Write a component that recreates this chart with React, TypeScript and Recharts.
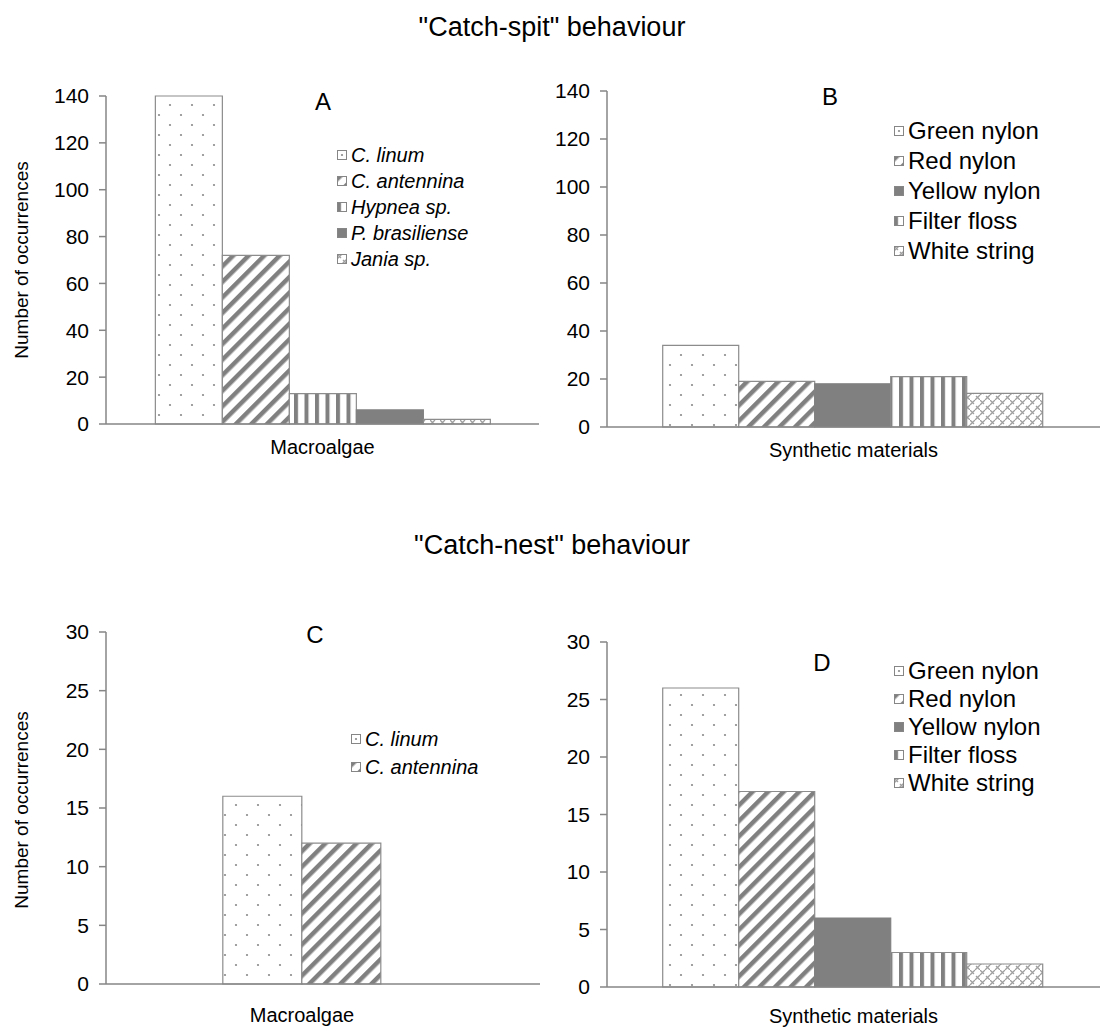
import React from "react";
import { BarChart, Bar, XAxis, YAxis, Legend } from "recharts";

const FONT = "'Liberation Sans', Arial, sans-serif";
const GREY = "#868686";

// series names
const algaeSpitSeries = ["C. linum", "C. antennina", "Hypnea sp.", "P. brasiliense", "Jania sp."];
const algaeNestSeries = ["C. linum", "C. antennina"];
const synthSeries = ["Green nylon", "Red nylon", "Yellow nylon", "Filter floss", "White string"];

// values
const spitAlgaeValues = [140, 72, 13, 6, 2];
const spitSynthValues = [34, 19, 18, 21, 14];
const nestAlgaeValues = [16, 12];
const nestSynthValues = [26, 17, 6, 3, 2];

const spitTicks = [0, 20, 40, 60, 80, 100, 120, 140];
const nestTicks = [0, 5, 10, 15, 20, 25, 30];

// fill style per series
const algaeKinds = ["dots", "diag", "vert", "solid", "weave"];
const synthKinds = ["dots", "diag", "solid", "vert", "weave"];

const fillFor = (kind: string, pid: string) =>
  kind === "solid" ? "#808080" : `url(#${pid}-${kind})`;

function Patterns({ pid }: { pid: string }) {
  return (
    <defs>
      <pattern id={`${pid}-dots`} patternUnits="userSpaceOnUse" width={22} height={20}>
        <rect width={22} height={20} fill="#fff" />
        <circle cx={5} cy={5} r={1.1} fill="#8a8a8a" />
        <circle cx={16} cy={15} r={1.1} fill="#8a8a8a" />
      </pattern>
      <pattern
        id={`${pid}-diag`}
        patternUnits="userSpaceOnUse"
        width={11}
        height={11}
        patternTransform="rotate(45)"
      >
        <rect width={11} height={11} fill="#fff" />
        <rect width={4.5} height={11} fill="#808080" />
      </pattern>
      <pattern id={`${pid}-vert`} patternUnits="userSpaceOnUse" width={10.5} height={10}>
        <rect width={10.5} height={10} fill="#fff" />
        <rect width={4} height={10} fill="#808080" />
      </pattern>
      <pattern id={`${pid}-weave`} patternUnits="userSpaceOnUse" width={10} height={10}>
        <rect width={10} height={10} fill="#fff" />
        <path d="M0 5 L5 0 M5 10 L10 5 M0 0 L4 4 M6 6 L10 10" stroke="#a0a0a0" strokeWidth={1.3} fill="none" />
      </pattern>
    </defs>
  );
}

function LegendBox({ names, kinds, pid, italic, fontSize, spacing }: any) {
  return (
    <div
      style={{
        fontFamily: FONT,
        fontSize,
        fontStyle: italic ? "italic" : "normal",
        color: "#000",
        lineHeight: `${spacing}px`,
      }}
    >
      {names.map((n: string, i: number) => (
        <div key={n} style={{ display: "flex", alignItems: "center", whiteSpace: "nowrap" }}>
          <svg width={10} height={10} style={{ marginRight: 4, flexShrink: 0 }}>
            <rect x={0.5} y={0.5} width={9} height={9} fill={fillFor(kinds[i], pid)} stroke={GREY} />
          </svg>
          <span>{n}</span>
        </div>
      ))}
    </div>
  );
}

type PanelProps = {
  pid: string;
  category: string;
  series: string[];
  values: number[];
  kinds: string[];
  ticks: number[];
  box: { left: number; top: number; width: number; height: number };
  margin: { top: number; right: number; bottom: number; left: number };
  gap: string;
  padRight?: number;
  tickMargin: number;
  legendPos: { left: number; top: number };
  italic: boolean;
  legendFont: number;
  legendSpacing: number;
};

function Panel(p: PanelProps) {
  const row: Record<string, any> = { name: p.category };
  p.series.forEach((s, i) => {
    row[`s${i}`] = p.values[i];
  });
  const data = [row];
  return (
    <div style={{ position: "absolute", ...p.box }}>
      <BarChart
        width={p.box.width}
        height={p.box.height}
        data={data}
        margin={p.margin}
        barCategoryGap={p.gap}
        barGap={0}
      >
        <Patterns pid={p.pid} />
        <XAxis
          dataKey="name"
          tickLine={false}
          axisLine={{ stroke: GREY, strokeWidth: 1.5 }}
          tick={{ fill: "#000", fontSize: 20, fontFamily: FONT }}
          tickMargin={p.tickMargin}
          height={40}
          padding={{ left: 0, right: p.padRight || 0 }}
        />
        <YAxis
          domain={[p.ticks[0], p.ticks[p.ticks.length - 1]]}
          ticks={p.ticks}
          interval={0}
          width={70}
          tickSize={7}
          tickMargin={10}
          axisLine={{ stroke: GREY, strokeWidth: 1.5 }}
          tickLine={{ stroke: GREY, strokeWidth: 1.5 }}
          tick={{ fill: "#000", fontSize: 21, fontFamily: FONT }}
        />
        <Legend
          layout="vertical"
          align="center"
          verticalAlign="middle"
          wrapperStyle={{ left: p.legendPos.left, top: p.legendPos.top, width: "auto" }}
          content={() => (
            <LegendBox
              names={p.series}
              kinds={p.kinds}
              pid={p.pid}
              italic={p.italic}
              fontSize={p.legendFont}
              spacing={p.legendSpacing}
            />
          )}
        />
        {p.series.map((s, i) => (
          <Bar
            key={s}
            dataKey={`s${i}`}
            name={s}
            fill={fillFor(p.kinds[i], p.pid)}
            stroke={p.kinds[i] === "solid" ? "#808080" : "#8c8c8c"}
            strokeWidth={1.2}
            isAnimationActive={false}
          />
        ))}
      </BarChart>
    </div>
  );
}

const textStyle: React.CSSProperties = {
  position: "absolute",
  fontFamily: FONT,
  color: "#000",
  whiteSpace: "nowrap",
};

function Label({ x, y, size, children, rotate }: any) {
  return (
    <div
      style={{
        ...textStyle,
        left: x,
        top: y,
        fontSize: size,
        transform: `translate(-50%, -50%)${rotate ? " rotate(-90deg)" : ""}`,
      }}
    >
      {children}
    </div>
  );
}

export default function App() {
  return (
    <div style={{ position: "absolute", left: 0, top: 0, width: 1105, height: 1028, background: "#fff" }}>
      <Label x={552} y={27} size={27}>"Catch-spit" behaviour</Label>
      <Label x={552} y={545} size={27}>"Catch-nest" behaviour</Label>
      <Label x={22} y={260} size={19} rotate>Number of occurrences</Label>
      <Label x={22} y={810} size={19} rotate>Number of occurrences</Label>

      <Panel
        pid="pa"
        category="Macroalgae"
        series={algaeSpitSeries}
        values={spitAlgaeValues}
        kinds={algaeKinds}
        ticks={spitTicks}
        box={{ left: 0, top: 50, width: 560, height: 450 }}
        margin={{ top: 46, right: 21, bottom: 36, left: 36 }}
        gap="11.4%"
        tickMargin={10}
        legendPos={{ left: 337, top: 92 }}
        italic
        legendFont={20}
        legendSpacing={26}
      />
      <Panel
        pid="pb"
        category="Synthetic materials"
        series={synthSeries}
        values={spitSynthValues}
        kinds={synthKinds}
        ticks={spitTicks}
        box={{ left: 500, top: 50, width: 605, height: 450 }}
        margin={{ top: 41, right: 5, bottom: 33, left: 37 }}
        gap="11.3%"
        tickMargin={10}
        legendPos={{ left: 394, top: 66 }}
        italic={false}
        legendFont={24}
        legendSpacing={30}
      />
      <Label x={323} y={102} size={24}>A</Label>
      <Label x={830} y={97} size={24}>B</Label>

      <Panel
        pid="pc"
        category="Macroalgae"
        series={algaeNestSeries}
        values={nestAlgaeValues}
        kinds={algaeKinds}
        ticks={nestTicks}
        box={{ left: 0, top: 590, width: 560, height: 438 }}
        margin={{ top: 42, right: 20, bottom: 4, left: 36 }}
        gap="29.8%"
        padRight={42}
        tickMargin={18}
        legendPos={{ left: 351, top: 135 }}
        italic
        legendFont={20}
        legendSpacing={28}
      />
      <Panel
        pid="pd"
        category="Synthetic materials"
        series={synthSeries}
        values={nestSynthValues}
        kinds={synthKinds}
        ticks={nestTicks}
        box={{ left: 500, top: 590, width: 605, height: 438 }}
        margin={{ top: 52, right: 5, bottom: 1, left: 37 }}
        gap="11.3%"
        tickMargin={16}
        legendPos={{ left: 394, top: 67 }}
        italic={false}
        legendFont={24}
        legendSpacing={28}
      />
      <Label x={315} y={635} size={24}>C</Label>
      <Label x={822} y={663} size={24}>D</Label>
    </div>
  );
}
